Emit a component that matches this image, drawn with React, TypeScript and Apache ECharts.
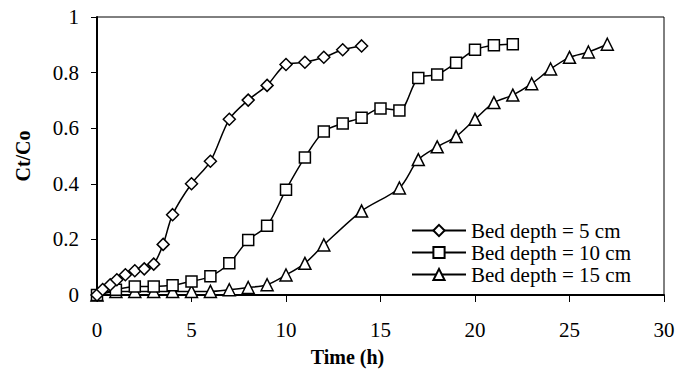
import React, { useEffect, useRef } from "react";
import * as echarts from "echarts";

const seriesNames = ["Bed depth = 5 cm", "Bed depth = 10 cm", "Bed depth = 15 cm"];

const time5 = [0, 0.3, 0.7, 1.05, 1.5, 2, 2.5, 3, 3.5, 4, 5, 6, 7, 8, 9, 10, 11, 12, 13, 14];
const ctco5 = [0, 0.02, 0.037, 0.055, 0.073, 0.087, 0.094, 0.111, 0.182, 0.289, 0.4, 0.481, 0.632, 0.701, 0.754, 0.829, 0.837, 0.855, 0.882, 0.896];

const time10 = [0, 1, 2, 3, 4, 5, 6, 7, 8, 9, 10, 11, 12, 13, 14, 15, 16, 17, 18, 19, 20, 21, 22];
const ctco10 = [0, 0.019, 0.031, 0.031, 0.035, 0.049, 0.067, 0.114, 0.198, 0.249, 0.379, 0.495, 0.588, 0.617, 0.638, 0.671, 0.664, 0.781, 0.793, 0.835, 0.882, 0.898, 0.902];

const time15 = [0, 1, 2, 3, 4, 5, 6, 7, 8, 9, 10, 11, 12, 14, 16, 17, 18, 19, 20, 21, 22, 23, 24, 25, 26, 27];
const ctco15 = [0, 0.013, 0.013, 0.013, 0.013, 0.013, 0.013, 0.019, 0.027, 0.037, 0.072, 0.114, 0.18, 0.302, 0.385, 0.487, 0.533, 0.57, 0.632, 0.692, 0.719, 0.76, 0.813, 0.855, 0.874, 0.902];

const symbols = ["diamond", "rect", "triangle"];
const symbolSizes = [12, 11, 12];

const FONT = "'Liberation Serif', 'Times New Roman', serif";

function pairs(xs: number[], ys: number[]) {
  return xs.map((x, i) => [x, ys[i]]);
}

export default function App() {
  const ref = useRef<HTMLDivElement>(null);
  useEffect(() => {
    if (!ref.current) return;
    const chart = echarts.init(ref.current, null, { renderer: "svg" });
    const datasets = [pairs(time5, ctco5), pairs(time10, ctco10), pairs(time15, ctco15)];
    chart.setOption({
      animation: false,
      backgroundColor: "#fff",
      grid: {
        left: 97,
        right: 28,
        top: 17,
        bottom: 75,
        show: true,
        borderColor: "#000",
        borderWidth: 1,
        backgroundColor: "transparent",
      },
      xAxis: {
        type: "value",
        min: 0,
        max: 30,
        interval: 5,
        name: "Time (h)",
        nameLocation: "middle",
        nameGap: 52,
        nameTextStyle: {
          fontFamily: FONT,
          fontWeight: "bold",
          fontSize: 20,
          color: "#000",
          padding: [0, 66, 0, 0],
        },
        axisLine: { show: true, lineStyle: { color: "#000", width: 2 } },
        axisTick: { show: true, inside: false, length: 7, lineStyle: { color: "#000", width: 1 } },
        axisLabel: { fontFamily: FONT, fontSize: 21, color: "#000", margin: 24 },
        splitLine: { show: false },
      },
      yAxis: {
        type: "value",
        min: 0,
        max: 1,
        interval: 0.2,
        name: "Ct/Co",
        nameLocation: "middle",
        nameGap: 64,
        nameTextStyle: {
          fontFamily: FONT,
          fontWeight: "bold",
          fontSize: 20,
          color: "#000",
        },
        axisLine: { show: true, lineStyle: { color: "#000", width: 2 } },
        axisTick: { show: true, inside: false, length: 6, lineStyle: { color: "#000", width: 1 } },
        axisLabel: {
          fontFamily: FONT,
          fontSize: 21,
          color: "#000",
          margin: 18,
          formatter: (v: number) => String(Math.round(v * 10) / 10),
        },
        splitLine: { show: false },
      },
      legend: {
        orient: "vertical",
        left: 411,
        top: 220,
        padding: 0,
        itemWidth: 54,
        itemHeight: 14,
        itemGap: 1,
        textStyle: { fontFamily: FONT, fontSize: 21, color: "#000" },
        data: seriesNames,
      },
      series: seriesNames.map((name, i) => ({
        name,
        type: "line",
        data: datasets[i],
        smooth: 0.3,
        symbol: symbols[i],
        symbolSize: symbolSizes[i],
        showAllSymbol: true,
        lineStyle: { color: "#000", width: 1.5 },
        itemStyle: { color: "#fff", borderColor: "#000", borderWidth: 1.5 },
        z: 3 - i,
      })),
    });
    return () => chart.dispose();
  }, []);
  return (
    <div
      ref={ref}
      style={{ position: "fixed", left: 0, top: 0, width: 692, height: 372, background: "#fff" }}
    />
  );
}
